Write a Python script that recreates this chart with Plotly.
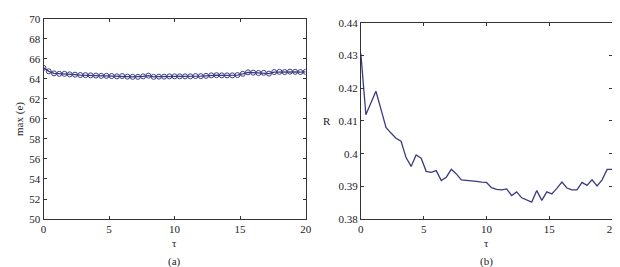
import plotly.graph_objects as go

tau = [round(i * 0.4, 1) for i in range(51)]

max_e = [65.1, 64.75, 64.55, 64.5, 64.5, 64.45, 64.42, 64.38, 64.37, 64.35,
         64.33, 64.3, 64.3, 64.28, 64.25, 64.28, 64.22, 64.2, 64.2, 64.25,
         64.32, 64.2, 64.22, 64.22, 64.25, 64.25, 64.25, 64.25, 64.25, 64.28,
         64.27, 64.3, 64.35, 64.37, 64.35, 64.35, 64.35, 64.38, 64.5, 64.65,
         64.62, 64.58, 64.6, 64.52, 64.68, 64.7, 64.68, 64.72, 64.7, 64.68, 64.7]

R = [0.4306, 0.4119, 0.4155, 0.4191, 0.4136, 0.4080, 0.4063, 0.4047, 0.4038, 0.3988,
     0.3961, 0.3996, 0.3986, 0.3946, 0.3943, 0.3948, 0.3918, 0.3928, 0.3952, 0.3938,
     0.3920, 0.3919, 0.3918, 0.3915, 0.3913, 0.3912, 0.3896, 0.3891, 0.3889, 0.3892,
     0.3872, 0.3883, 0.3865, 0.3859, 0.3852, 0.3887, 0.3857, 0.3883, 0.3877, 0.3894,
     0.3913, 0.3895, 0.3889, 0.3889, 0.3912, 0.3903, 0.3920, 0.3901, 0.3920, 0.3952, 0.3952]

x_ticks = [0, 5, 10, 15, 20]
y1_ticks = [50, 52, 54, 56, 58, 60, 62, 64, 66, 68, 70]
y2_ticks = [0.38, 0.39, 0.40, 0.41, 0.42, 0.43, 0.44]
y2_labels = ["0.38", "0.39", "0.4", "0.41", "0.42", "0.43", "0.44"]

LINE = "#3b3b82"
AX = "#333333"
FONT = "Liberation Serif"

fig = go.Figure()
fig.add_trace(go.Scatter(x=tau, y=max_e, mode="lines+markers",
                         line=dict(color=LINE, width=1.3),
                         marker=dict(symbol="circle-open", size=5, color=LINE, line=dict(width=1)),
                         xaxis="x", yaxis="y", showlegend=False))
fig.add_trace(go.Scatter(x=tau, y=R, mode="lines",
                         line=dict(color=LINE, width=1.3),
                         xaxis="x2", yaxis="y2", showlegend=False))

axcommon = dict(showline=True, linecolor=AX, linewidth=1, mirror="allticks",
                ticks="inside", ticklen=3, tickcolor=AX, showgrid=False, zeroline=False,
                tickfont=dict(family=FONT, size=11, color="#222"))

fig.update_layout(
    width=620, height=267,
    margin=dict(l=0, r=0, t=0, b=0),
    paper_bgcolor="white", plot_bgcolor="white",
    xaxis=dict(domain=[33/620, 299/620], range=[0, 20], tickvals=x_ticks, anchor="y", **axcommon),
    yaxis=dict(domain=[1-214.7/267, 1-5/267], range=[50, 70], tickvals=y1_ticks, anchor="x", **axcommon),
    xaxis2=dict(domain=[355/620, 610/620], range=[0, 20], tickvals=x_ticks, anchor="y2", **axcommon),
    yaxis2=dict(domain=[1-214.7/267, 1-9.3/267], range=[0.38, 0.44], tickvals=y2_ticks,
                ticktext=y2_labels, anchor="x2", **axcommon),
)

ann_font = dict(family=FONT, size=11, color="#222")
def ann(text, px, py, angle=0):
    fig.add_annotation(text=text, x=px/620, y=1-py/267, xref="paper", yref="paper",
                       xanchor="center", yanchor="middle", textangle=angle, borderpad=0,
                       showarrow=False, font=ann_font)

ann("max (e)", 8, 110, -90)
ann("R", 321, 112)
ann("τ", 166, 240)
ann("τ", 483, 240)
ann("(a)", 166, 259)
ann("(b)", 483, 259)

fig.write_html("out.html")
